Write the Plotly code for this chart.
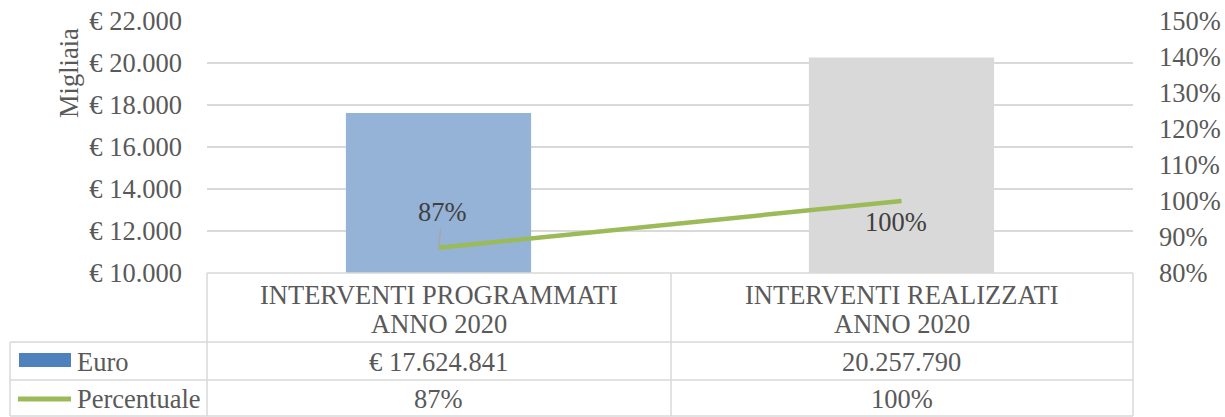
import plotly.graph_objects as go

# Categories (two text lines each), values and styling inputs
category_line1 = ["INTERVENTI PROGRAMMATI", "INTERVENTI REALIZZATI"]
category_line2 = ["ANNO 2020", "ANNO 2020"]
euro = [17624841, 20257790]
euro_prefix = ["€ ", ""]
percentuale = [0.87, 1.00]
bar_colors = ["#95B3D7", "#D9D9D9"]
left_ticks = [10000, 12000, 14000, 16000, 18000, 20000, 22000]
right_ticks = [0.8, 0.9, 1.0, 1.1, 1.2, 1.3, 1.4, 1.5]

FONT = '"Liberation Serif", "Times New Roman", Times, serif'
FS = 26.5
GREY_TXT = "#595959"
GRID = "#D9D9D9"
BLUE_KEY = "#4F81BD"
GREEN = "#9BBB59"

W, H = 1225, 417
L, R, T, B = 207, 92, 21, 144
PW, PH = W - L - R, H - T - B


def px_x(px):
    return (px - L) / PW


def px_y(py):
    return (H - B - py) / PH


def it_num(v):
    return f"{v:,}".replace(",", ".")


x_idx = list(range(len(euro)))
migliaia = [v / 1000 for v in euro]

fig = go.Figure()
fig.add_trace(go.Bar(
    x=x_idx, y=migliaia, width=0.4,
    marker=dict(color=bar_colors, line=dict(width=0)),
    name="Euro", hoverinfo="skip",
))
fig.add_trace(go.Scatter(
    x=x_idx, y=percentuale, yaxis="y2", mode="lines",
    line=dict(color=GREEN, width=4.5), name="Percentuale", hoverinfo="skip",
))

# data labels for the percentage line
annotations = [
    dict(x=x_idx[0], y=percentuale[0], xref="x", yref="y2",
         text=f"{round(percentuale[0] * 100)}%", showarrow=True,
         arrowhead=0, arrowwidth=1.5, arrowcolor="#A6A6A6", ax=4, ay=-36,
         standoff=0, font=dict(family=FONT, size=FS, color="#404040")),
    dict(x=x_idx[1], y=percentuale[1], xref="x", yref="y2",
         text=f"{round(percentuale[1] * 100)}%", showarrow=False,
         xshift=-6, yshift=-21, font=dict(family=FONT, size=FS, color="#404040")),
]

# axis unit title
annotations.append(dict(
    x=px_x(69), y=px_y(73), xref="paper", yref="paper", text="Migliaia",
    textangle=-90, showarrow=False, xanchor="center", yanchor="middle",
    font=dict(family=FONT, size=FS, color=GREY_TXT)))

# data table below the plot
shapes = []
line_style = dict(color=GRID, width=1.5)
tbl_left, col_edges = 10, [207, 671, 1133]
row_top, row_cat, row_euro, row_pct = 273, 342, 380, 416
for yy, x0 in [(row_top, 207), (row_cat, tbl_left), (row_euro, tbl_left),
               (row_pct, tbl_left)]:
    shapes.append(dict(type="line", xref="paper", yref="paper",
                       x0=px_x(x0), x1=px_x(1133), y0=px_y(yy), y1=px_y(yy),
                       line=line_style))
for xx in col_edges:
    shapes.append(dict(type="line", xref="paper", yref="paper",
                       x0=px_x(xx), x1=px_x(xx), y0=px_y(row_top), y1=px_y(row_pct),
                       line=line_style))
shapes.append(dict(type="line", xref="paper", yref="paper",
                   x0=px_x(tbl_left), x1=px_x(tbl_left), y0=px_y(row_cat),
                   y1=px_y(row_pct), line=line_style))

# legend keys inside the table
shapes.append(dict(type="rect", xref="paper", yref="paper",
                   x0=px_x(19), x1=px_x(71), y0=px_y(367), y1=px_y(353),
                   fillcolor=BLUE_KEY, line=dict(width=0)))
shapes.append(dict(type="line", xref="paper", yref="paper",
                   x0=px_x(18), x1=px_x(71), y0=px_y(399), y1=px_y(399),
                   line=dict(color=GREEN, width=5)))

cell_font = dict(family=FONT, size=FS, color=GREY_TXT)
annotations.append(dict(x=px_x(75), y=px_y(362), xref="paper", yref="paper",
                        text="Euro", showarrow=False, xanchor="left",
                        yanchor="middle", font=cell_font))
annotations.append(dict(x=px_x(75), y=px_y(399), xref="paper", yref="paper",
                        text="Percentuale", showarrow=False, xanchor="left",
                        yanchor="middle", font=cell_font))

for i in x_idx:
    annotations.append(dict(x=i, y=px_y(295), xref="x", yref="paper",
                            text=category_line1[i], showarrow=False,
                            yanchor="middle", font=cell_font))
    annotations.append(dict(x=i, y=px_y(324), xref="x", yref="paper",
                            text=category_line2[i], showarrow=False,
                            yanchor="middle", font=cell_font))
    annotations.append(dict(x=i, y=px_y(362), xref="x", yref="paper",
                            text=euro_prefix[i] + it_num(euro[i]), showarrow=False,
                            yanchor="middle", font=cell_font))
    annotations.append(dict(x=i, y=px_y(399), xref="x", yref="paper",
                            text=f"{round(percentuale[i] * 100)}%", showarrow=False,
                            yanchor="middle", font=cell_font))

fig.update_layout(
    width=W, height=H,
    margin=dict(l=L, r=R, t=T, b=B, pad=0, autoexpand=False),
    paper_bgcolor="white", plot_bgcolor="white",
    showlegend=False,
    font=dict(family=FONT, size=FS, color=GREY_TXT),
    xaxis=dict(range=[-0.5, 1.5], showticklabels=False, showgrid=False,
               zeroline=False, showline=False, ticks="", fixedrange=True,
               automargin=False),
    yaxis=dict(range=[10000, 22000], tickvals=left_ticks,
               ticktext=[f"€ {it_num(v)}" for v in left_ticks],
               showgrid=True, gridcolor=GRID, gridwidth=1.5, zeroline=False,
               showline=False, ticks="", ticklabelstandoff=24, automargin=False,
               tickfont=dict(family=FONT, size=FS, color=GREY_TXT)),
    yaxis2=dict(range=[0.8, 1.5], overlaying="y", side="right",
                tickvals=right_ticks,
                ticktext=[f"{round(v * 100)}%" for v in right_ticks],
                showgrid=False, zeroline=False, showline=False, ticks="",
                ticklabelstandoff=25, automargin=False,
                tickfont=dict(family=FONT, size=FS, color=GREY_TXT)),
    bargap=0.6,
    shapes=shapes,
    annotations=annotations,
)

fig.write_html("out.html")
